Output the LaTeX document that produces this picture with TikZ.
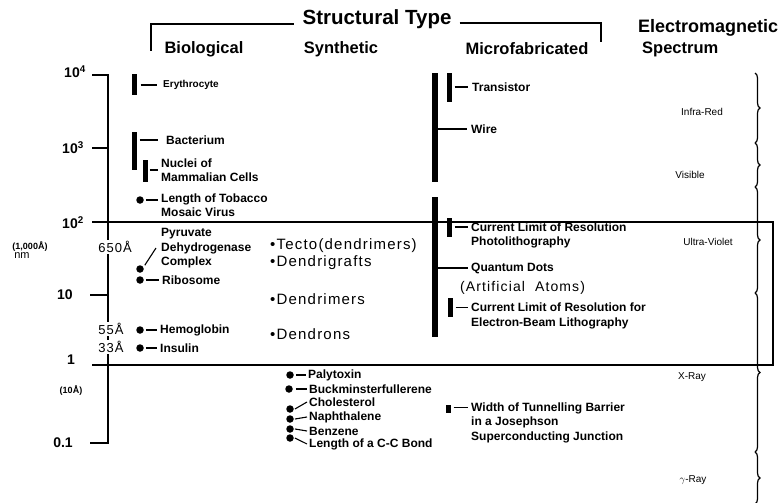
\documentclass[tikz,border=0pt]{standalone}
\usepackage{fontspec}
\setmainfont{Liberation Sans}
\newfontfamily\spc[LetterSpace=8]{Liberation Sans}
\usetikzlibrary{decorations.pathreplacing}
\begin{document}
\begin{tikzpicture}[x=1pt,y=-1pt,
  axis/.style={line width=1.8pt},
  frame/.style={line width=1.3pt},
  conn/.style={line width=1.1pt},
  bar/.style={rectangle,fill=black,inner sep=0pt,minimum width=5pt},
  dot/.style={circle,fill=black,inner sep=0pt,minimum size=7.5pt},
  lbl/.style={font=\bfseries\fontsize{12}{14.5}\selectfont,anchor=west,align=left,inner sep=0pt},
  lblt/.style={lbl,anchor=north west},
  head/.style={font=\bfseries\fontsize{16.5}{19}\selectfont,inner sep=0pt},
  tick/.style={font=\bfseries\fontsize{14}{16}\selectfont,inner sep=0pt},
  ang/.style={font=\spc\fontsize{13}{15}\selectfont,inner sep=1pt,fill=white},
  syn/.style={font=\spc\fontsize{15}{17}\selectfont,anchor=west,inner sep=0pt},
  spec/.style={font=\fontsize{10}{12}\selectfont,inner sep=0pt},
  brc/.style={line width=1.2pt,decorate,decoration={brace,amplitude=5pt}}]
\useasboundingbox (0,0) rectangle (779,503);

% ---- headings ----
\node[head,font=\bfseries\fontsize{20.5}{23}\selectfont] (stype) at (377,19) {Structural Type};
\node[head] (hbio) at (204,49) {Biological};
\node[head] (hsyn) at (341,49) {Synthetic};
\node[head] (hmic) at (527,49) {Microfabricated};
\node[head,anchor=west,font=\bfseries\fontsize{18}{20}\selectfont] (hem) at (638,28) {Electromagnetic};
\node[head,anchor=west] (hspec) at (642,49) {Spectrum};
\draw[frame] (151,51) -- (151,24) -- ([xshift=-8pt]stype.west |- 0,24);
\draw[frame] ([xshift=8pt]stype.east |- 0,23) -- (601,23) -- (601,42);

% ---- scale axis ----
\draw[axis] (92,75) -- (108,75) -- (108,443) -- (90,443);
\draw[axis] (92,148) -- (108,148);
\draw[axis] (90,295) -- (108,295);
\draw[frame] (92,222) -- (773,222) -- (773,365) -- (92,365);
\node[tick] (t4) at (75,72) {10$^{\mathbf 4}$};
\node[tick] (t3) at (73,148) {10$^{\mathbf 3}$};
\node[tick] (t2) at (73,223) {10$^{\mathbf 2}$};
\node[tick] (t1) at (65,295) {10};
\node[tick] (t0) at (71,360) {1};
\node[tick] (tm) at (63,443) {0.1};
\node[font=\bfseries\fontsize{9}{11}\selectfont,inner sep=0pt] (kA) at (30,246) {(1,000\AA)};
\node[font=\bfseries\fontsize{9}{11}\selectfont,inner sep=0pt] (tA) at (71,390) {(10\AA)};
\node[font=\fontsize{11}{13}\selectfont,inner sep=0pt] (nm) at (22,256) {nm};
\node[ang] (a650) at (115,247) {650\AA};
\node[ang] (a55) at (111,329) {55\AA};
\node[ang] (a33) at (111,347) {33\AA};

% ---- biological ----
\node[bar,minimum height=21pt] (ery) at (134,84.5) {};
\node[lbl,font=\bfseries\fontsize{10}{12}\selectfont] (erylbl) at (163,85) {Erythrocyte};
\draw[conn] ([xshift=4pt]ery.east |- erylbl.west) -- ([xshift=-6pt]erylbl.west);

\node[bar,minimum height=38pt] (bact) at (134,151) {};
\node[lbl] (bactlbl) at (166,140) {Bacterium};
\draw[conn] ([xshift=3pt]bact.east |- bactlbl.west) -- ([xshift=-8pt]bactlbl.west);

\node[bar,minimum height=22pt] (nuc) at (145,171) {};
\node[lbl] (nuclbl) at (161,170) {Nuclei of\\Mammalian Cells};
\draw[conn] ([xshift=2pt]nuc.east |- nuclbl.west) -- ([xshift=-3pt]nuclbl.west);

\node[dot] (tmv) at (140,200) {};
\node[lblt] (tmvlbl) at (161,193.5) {Length of Tobacco\\Mosaic Virus};
\draw[conn] ([xshift=2pt]tmv.east) -- ([xshift=-3pt,yshift=-6.5pt]tmvlbl.north west);

\node[lblt] (pdclbl) at (161,228.5) {Pyruvate\\Dehydrogenase\\Complex};
\node[dot] (pdc) at (140,269) {};
\coordinate (pdcend) at (156,248);
\draw[conn] ([shift={(2pt,1pt)}]pdc.north east) -- (pdcend);

\node[dot] (ribo) at (140,280) {};
\node[lbl] (ribolbl) at (162,280) {Ribosome};
\draw[conn] ([xshift=2pt]ribo.east) -- ([xshift=-3pt]ribolbl.west);

\node[dot] (hemo) at (140,330) {};
\node[lbl] (hemolbl) at (160,330) {Hemoglobin};
\draw[conn] ([xshift=2pt]hemo.east) -- ([xshift=-3pt]hemolbl.west);

\node[dot] (ins) at (140,348) {};
\node[lbl] (inslbl) at (160,348) {Insulin};
\draw[conn] ([xshift=2pt]ins.east) -- ([xshift=-3pt]inslbl.west);

% ---- synthetic ----
\node[syn] (tecto) at (270,246) {\textbullet Tecto(dendrimers)};
\node[syn] (dgraft) at (270,263) {\textbullet Dendrigrafts};
\node[syn] (dmer) at (270,299) {\textbullet Dendrimers};
\node[syn] (dron) at (270,334) {\textbullet Dendrons};

\node[dot] (paly) at (290,375) {};
\node[lbl] (palylbl) at (308,375) {Palytoxin};
\draw[conn] ([xshift=2pt]paly.east) -- ([xshift=-2pt]palylbl.west);
\node[dot] (buck) at (289,389) {};
\node[lbl] (bucklbl) at (309,389) {Buckminsterfullerene};
\draw[conn] ([xshift=3pt]buck.east) -- ([xshift=-2pt]bucklbl.west);
\node[dot] (chol) at (290,409) {};
\node[dot] (naph) at (290,419) {};
\node[dot] (benz) at (290,429) {};
\node[dot] (ccb) at (290,438) {};
\node[lbl] (chollbl) at (309,402) {Cholesterol};
\node[lbl] (naphlbl) at (309,417) {Naphthalene};
\node[lbl] (benzlbl) at (309,431) {Benzene};
\node[lbl] (ccblbl) at (309,444) {Length of a C-C Bond};
\draw[conn] ([xshift=1pt]chol.east) -- ([xshift=-2pt]chollbl.west);
\draw[conn] ([xshift=1pt]naph.east) -- ([xshift=-2pt]naphlbl.west);
\draw[conn] ([xshift=1pt]benz.east) -- ([xshift=-2pt]benzlbl.west);
\draw[conn] ([xshift=1pt]ccb.east) -- ([xshift=-2pt]ccblbl.west);

% ---- microfabricated ----
\node[bar,minimum width=6pt,minimum height=109pt] (wire) at (435,127.5) {};
\node[bar,minimum height=29pt] (trans) at (449,87.5) {};
\node[lbl] (translbl) at (472,87) {Transistor};
\draw[conn] ([xshift=3pt]trans.east |- translbl.west) -- ([xshift=-4pt]translbl.west);
\node[lbl] (wirelbl) at (471,129) {Wire};
\draw[conn] (wire.east |- wirelbl.west) -- ([xshift=-4pt]wirelbl.west);

\node[bar,minimum width=6pt,minimum height=140pt] (qd) at (435,267) {};
\node[bar,minimum height=19pt] (photo) at (449,227) {};
\node[lblt] (photolbl) at (471,222.5) {Current Limit of Resolution\\Photolithography};
\draw[conn] ([xshift=3pt]photo.east |- 0,227) -- ([xshift=-3pt,yshift=-4.5pt]photolbl.north west);
\node[lbl] (qdlbl) at (471,268) {Quantum Dots};
\draw[conn] (qd.east |- qdlbl.west) -- ([xshift=-3pt]qdlbl.west);
\node[syn,font=\spc\fontsize{14}{16}\selectfont] (artif) at (460,288) {(Artificial\ \ Atoms)};
\node[bar,minimum height=19pt] (ebeam) at (450,307.5) {};
\node[lblt] (ebeamlbl) at (471,303) {Current Limit of Resolution for\\Electron-Beam Lithography};
\draw[conn] ([xshift=3pt]ebeam.east |- 0,307.5) -- ([xshift=-3pt,yshift=-4.5pt]ebeamlbl.north west);
\node[bar,minimum height=8pt] (jos) at (448,409) {};
\node[lblt] (joslbl) at (471,402.5) {Width of Tunnelling Barrier\\in a Josephson\\Superconducting Junction};
\draw[conn] ([xshift=3pt]jos.east |- 0,407.5) -- ([xshift=-3pt,yshift=-5pt]joslbl.north west);

% ---- electromagnetic spectrum ----
\draw[brc] (755,73) -- (755,143);
\draw[brc] (755,143) -- (755,187);
\draw[brc] (755,187) -- (755,293);
\draw[brc] (755,293) -- (755,452);
\draw[brc] (755,452) -- (755,504);
\node[spec] (ir) at (702,112) {Infra-Red};
\node[spec] (vis) at (690,175) {Visible};
\node[spec] (uv) at (708,242) {Ultra-Violet};
\node[spec] (xr) at (692,377) {X-Ray};
\node[spec] (gr) at (693,480) {$\gamma$-Ray};
\end{tikzpicture}
\end{document}
